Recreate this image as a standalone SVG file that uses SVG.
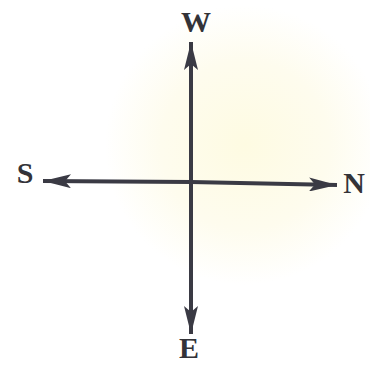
<svg xmlns="http://www.w3.org/2000/svg" width="370" height="366" viewBox="0 0 370 366">
<defs>
<radialGradient id="glow" cx="245" cy="145" r="140" gradientUnits="userSpaceOnUse">
<stop offset="0" stop-color="#fefbe2"/>
<stop offset="0.6" stop-color="#fefcee"/>
<stop offset="1" stop-color="#ffffff"/>
</radialGradient>
<marker id="ah" viewBox="0 0 28 14" refX="28" refY="7" markerWidth="28" markerHeight="14" markerUnits="userSpaceOnUse" orient="auto">
<path d="M0,0 L28,7 L0,14 L6,7 Z" fill="#3a3a44"/>
</marker>
<style>
.ax{stroke:#3a3a44;stroke-width:4;fill:none;marker-end:url(#ah)}
.lb{font-family:"Liberation Serif","Times New Roman",serif;font-weight:bold;font-size:30px;fill:#333338;text-anchor:middle}
</style>
</defs>
<rect width="370" height="366" fill="#ffffff"/>
<rect width="370" height="366" fill="url(#glow)"/>
<g id="connectors">
<line class="ax" x1="191" y1="182" x2="191" y2="42"/>
<line class="ax" x1="191" y1="182" x2="191" y2="334"/>
<line class="ax" x1="191" y1="182" x2="43" y2="181"/>
<line class="ax" x1="191" y1="182" x2="337" y2="185"/>
</g>
<g id="W"><text class="lb" x="196" y="32">W</text></g>
<g id="S"><text class="lb" x="25" y="183">S</text></g>
<g id="N"><text class="lb" x="354" y="193">N</text></g>
<g id="E"><text class="lb" x="189" y="358">E</text></g>
</svg>
